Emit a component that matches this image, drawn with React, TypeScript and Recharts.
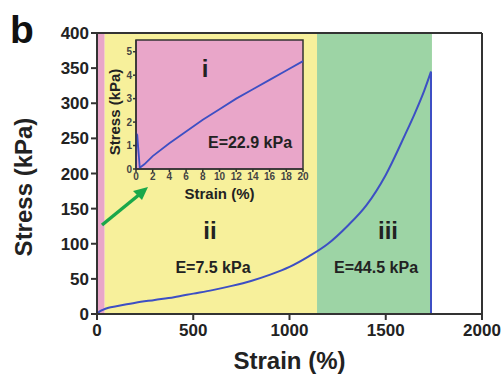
import React from "react";
import {
  ComposedChart,
  LineChart,
  Line,
  XAxis,
  YAxis,
  ReferenceArea,
  ReferenceLine,
  Label,
} from "recharts";

// full stress–strain curve (strain %, stress kPa) up to the break
const strainMain = [0, 10, 30, 60, 100, 200, 300, 400, 500, 600, 700, 800, 900, 1000, 1100, 1200, 1300, 1400, 1500, 1600, 1650, 1700, 1735];
const stressMain = [0, 3, 6, 9, 11, 16, 20, 24, 29, 34, 40, 47, 56, 67, 82, 100, 125, 155, 198, 255, 285, 318, 345];

// sample breaks: stress falls straight back to zero
const strainBreak = [1735, 1735];
const stressBreak = [345, 0];

// low-strain zoom (0–20 %)
const strainInset = [0, 0.05, 0.15, 0.45, 1, 2, 4, 6, 8, 10, 12, 14, 16, 18, 20];
const stressInset = [0, 1.5, 1.45, 0.05, 0.2, 0.55, 1.1, 1.6, 2.1, 2.55, 3.0, 3.4, 3.8, 4.2, 4.6];

// deformation regions i / ii / iii
const regionEdges = [0, 40, 1143, 1740];
const regionColors = ["#e9a6c9", "#f7f09b", "#9dd4a5"];

const mainXTicks = [0, 500, 1000, 1500, 2000];
const mainYTicks = [0, 50, 100, 150, 200, 250, 300, 350, 400];
const insetXTicks = [0, 2, 4, 6, 8, 10, 12, 14, 16, 18, 20];
const insetYTicks = [0, 1, 2, 3, 4, 5];

const mainData = strainMain.map((s, i) => ({ strain: s, stress: stressMain[i] }));
const breakData = strainBreak.map((s, i) => ({ strain: s, stress: stressBreak[i] }));
const insetData = strainInset.map((s, i) => ({ strain: s, stress: stressInset[i] }));

const FONT = "'Liberation Sans', Arial, sans-serif";
const AXIS = "#333";
const TEXT = "#222";
const LINE = "#3d4fc4";

const App: React.FC = () => {
  return (
    <div style={{ position: "absolute", left: 0, top: 0, width: 503, height: 375, background: "#fff", fontFamily: FONT }}>
      <ComposedChart
        width={503}
        height={375}
        data={mainData}
        margin={{ top: 33, right: 21, bottom: 16, left: 0 }}
      >
        {regionColors.map((c, i) => (
          <ReferenceArea
            key={i}
            x1={regionEdges[i]}
            x2={regionEdges[i + 1]}
            y1={0}
            y2={400}
            fill={c}
            fillOpacity={1}
            stroke="none"
            ifOverflow="visible"
          />
        ))}
        <XAxis
          dataKey="strain"
          type="number"
          domain={[0, 2000]}
          ticks={mainXTicks}
          height={45}
          stroke={AXIS}
          strokeWidth={2}
          tickSize={6}
          tickMargin={4}
          tick={{ fill: TEXT, fontSize: 17, fontWeight: "bold", fontFamily: FONT }}
        >
          <Label value="Strain (%)" position="insideBottom" offset={-10} style={{ fill: TEXT, fontSize: 24, fontWeight: "bold", fontFamily: FONT }} />
        </XAxis>
        <YAxis
          type="number"
          domain={[0, 400]}
          ticks={mainYTicks}
          width={97}
          stroke={AXIS}
          strokeWidth={2}
          tickSize={6}
          tick={{ fill: TEXT, fontSize: 17, fontWeight: "bold", fontFamily: FONT }}
        />
        <ReferenceLine y={400} stroke={AXIS} strokeWidth={2} />
        <ReferenceLine x={2000} stroke={AXIS} strokeWidth={2} />
        <Line
          dataKey="stress"
          type="monotone"
          stroke={LINE}
          strokeWidth={2}
          dot={false}
          isAnimationActive={false}
        />
        <Line
          data={breakData}
          dataKey="stress"
          type="linear"
          stroke={LINE}
          strokeWidth={2}
          dot={false}
          isAnimationActive={false}
        />
      </ComposedChart>

      {/* titles, region labels and the pointer to the inset */}
      <svg width={503} height={375} style={{ position: "absolute", left: 0, top: 0, pointerEvents: "none" }}>
        <text x={10} y={43} fontSize={39} fontWeight="bold" fill="#111" fontFamily={FONT}>b</text>
        <text transform="translate(23,187) rotate(-90)" textAnchor="middle" dominantBaseline="central" fontSize={24} fontWeight="bold" fill={TEXT} fontFamily={FONT}>Stress (kPa)</text>
        <text x={210} y={239} fontSize={24} fontWeight="bold" fill={TEXT} textAnchor="middle" fontFamily={FONT}>ii</text>
        <text x={213} y={273} fontSize={16} fontWeight="bold" fill={TEXT} textAnchor="middle" fontFamily={FONT}>E=7.5 kPa</text>
        <text x={388} y={239} fontSize={24} fontWeight="bold" fill={TEXT} textAnchor="middle" fontFamily={FONT}>iii</text>
        <text x={376} y={273} fontSize={16} fontWeight="bold" fill={TEXT} textAnchor="middle" fontFamily={FONT}>E=44.5 kPa</text>
        <line x1={102} y1={225} x2={140} y2={194} stroke="#1aa84a" strokeWidth={3.5} />
        <polygon points="148,187 133,191 142,200" fill="#1aa84a" />
      </svg>

      {/* inset: first 20 % strain */}
      <div style={{ position: "absolute", left: 100, top: 30 }}>
        <LineChart
          width={215}
          height={175}
          data={insetData}
          margin={{ top: 10, right: 12, bottom: 6, left: 0 }}
        >
          <ReferenceArea x1={0} x2={20} y1={0} y2={5.5} fill="#e9a6c9" fillOpacity={1} stroke={AXIS} strokeWidth={1.5} />
          <XAxis
            dataKey="strain"
            type="number"
            domain={[0, 20]}
            ticks={insetXTicks}
            height={30}
            stroke={AXIS}
            strokeWidth={1.5}
            tickSize={3}
            tickMargin={1}
            tick={{ fill: "#444", fontSize: 10, fontWeight: "bold", fontFamily: FONT }}
          >
            <Label value="Strain (%)" position="insideBottom" offset={0} style={{ fill: TEXT, fontSize: 15, fontWeight: "bold", fontFamily: FONT }} />
          </XAxis>
          <YAxis
            type="number"
            domain={[0, 5.5]}
            ticks={insetYTicks}
            width={36}
            stroke={AXIS}
            strokeWidth={1.5}
            tickSize={3}
            tickMargin={1}
            tick={{ fill: "#444", fontSize: 10, fontWeight: "bold", fontFamily: FONT }}
          />
          <Line
            dataKey="stress"
            type="linear"
            stroke={LINE}
            strokeWidth={1.8}
            dot={false}
            isAnimationActive={false}
          />
        </LineChart>
        <svg width={215} height={175} style={{ position: "absolute", left: 0, top: 0, pointerEvents: "none" }}>
          <text transform="translate(14,82) rotate(-90)" textAnchor="middle" dominantBaseline="central" fontSize={15} fontWeight="bold" fill={TEXT} fontFamily={FONT}>Stress (kPa)</text>
          <text x={105} y={47} fontSize={24} fontWeight="bold" fill={TEXT} textAnchor="middle" fontFamily={FONT}>i</text>
          <text x={150} y={118} fontSize={16} fontWeight="bold" fill={TEXT} textAnchor="middle" fontFamily={FONT}>E=22.9 kPa</text>
        </svg>
      </div>
    </div>
  );
};

export default App;
